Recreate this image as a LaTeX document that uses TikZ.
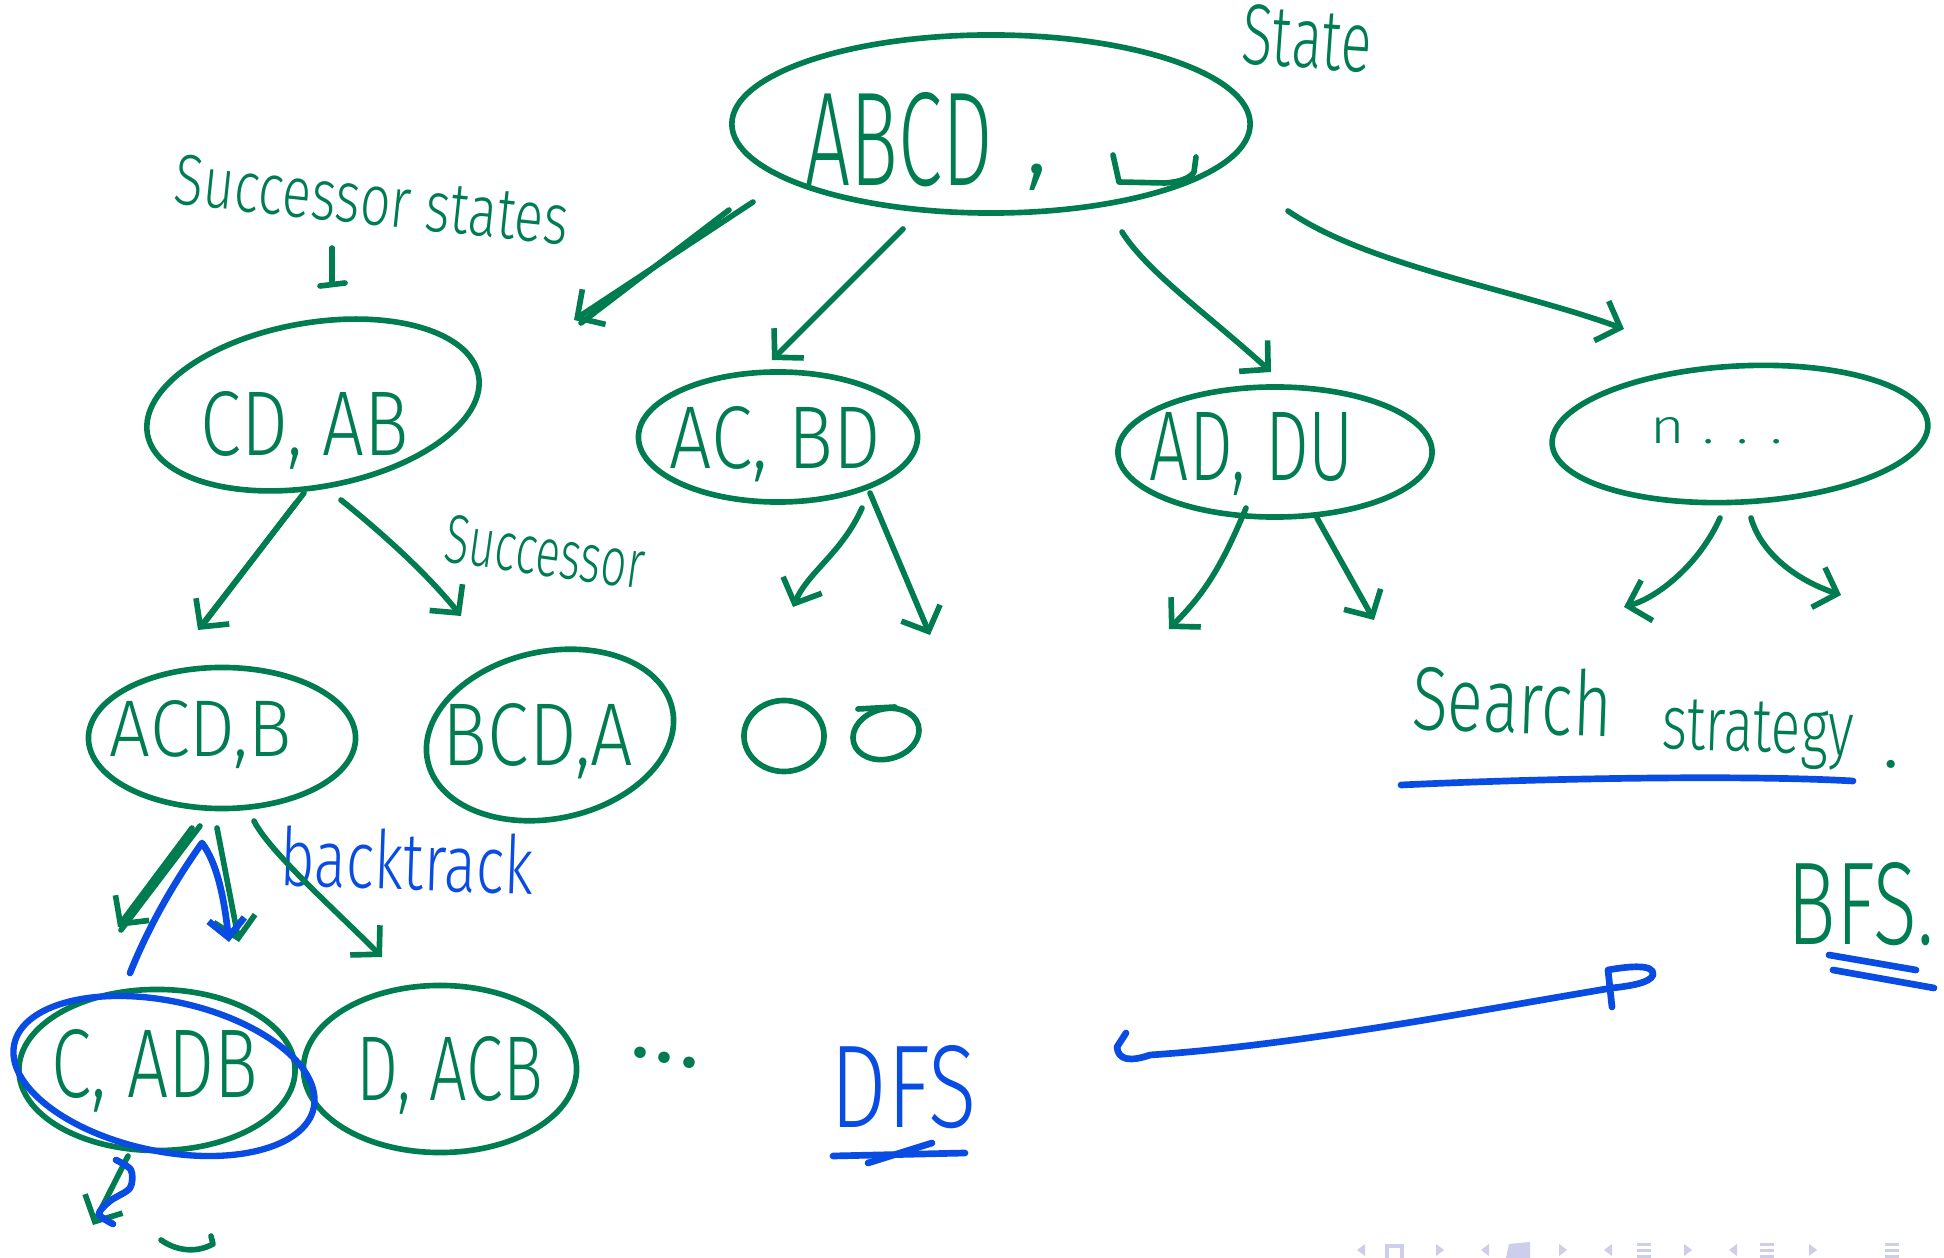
\documentclass[tikz,border=0pt]{standalone}
\usepackage{fontspec}
\setmainfont{Fira Sans Light}
\usetikzlibrary{arrows.meta,shapes.geometric}
\definecolor{ink}{RGB}{0,125,80}
\definecolor{pen}{RGB}{8,76,228}
\definecolor{navgrey}{RGB}{205,205,236}
% stretch a handwritten-looking label to a given width and height
\newcommand{\hw}[3]{\resizebox{#1}{#2}{#3}}

\begin{document}
\begin{tikzpicture}[x=0.01cm,y=-0.01cm,
  blob/.style={ellipse,draw=ink,line width=1.6pt,inner sep=0pt,outer sep=0pt},
  blueblob/.style={ellipse,draw=pen,line width=1.8pt,inner sep=0pt,outer sep=0pt},
  lbl/.style={text=ink,inner sep=0pt,anchor=base},
  bluelbl/.style={text=pen,inner sep=0pt,anchor=base},
  stroke/.style={draw=ink,line width=1.6pt,line cap=round,line join=round},
  bluestroke/.style={draw=pen,line width=1.9pt,line cap=round,line join=round},
  arr/.style={stroke,-{Straight Barb[length=0.2cm,width=0.42cm]}},
  bluearr/.style={bluestroke,-{Straight Barb[length=0.18cm,width=0.36cm]}}]

\useasboundingbox (0,0) rectangle (1944,1258);
\fill[white] (0,0) rectangle (1944,1258);

% ---- state nodes ----
\node[blob,minimum width=5.18cm,minimum height=1.78cm] (root) at (991,124) {};
\node[blob,minimum width=3.36cm,minimum height=1.64cm,rotate=10] (cdab) at (313,405) {};
\node[blob,minimum width=2.79cm,minimum height=1.30cm] (acbd) at (778,437) {};
\node[blob,minimum width=3.14cm,minimum height=1.30cm] (addu) at (1275,452) {};
\node[blob,minimum width=3.76cm,minimum height=1.36cm,rotate=3] (more) at (1740,434) {};
\node[blob,minimum width=2.67cm,minimum height=1.41cm] (acdb) at (222,738) {};
\node[blob,minimum width=2.50cm,minimum height=1.67cm,rotate=12] (bcda) at (550,735) {};
\node[blob,minimum width=0.80cm,minimum height=0.71cm] (c1) at (784,736) {};
\node[blob,minimum width=0.67cm,minimum height=0.50cm,rotate=15] (c2) at (886,734) {};
\node[blob,minimum width=2.76cm,minimum height=1.61cm] (cadb) at (157,1070) {};
\node[blob,minimum width=2.73cm,minimum height=1.67cm] (dacb) at (440,1069) {};
\node[blueblob,minimum width=3.06cm,minimum height=1.50cm,rotate=-12] (mark) at (164,1076) {};

% ---- labels ----
\node[lbl] (tabcd) at (899,186) {\hw{1.87cm}{0.93cm}{ABCD}};
\node[lbl] (tcomma) at (1037,174) {\fontsize{32}{32}\selectfont ,};
\draw[stroke] (1113,155) -- (1119,182) -- (1165,183) .. controls (1180,182) and (1190,178) .. (1194,172) -- (1196,157);
\node[lbl,rotate=-4] (tstate) at (1305,68) {\hw{1.30cm}{0.60cm}{State}};
\node[text=ink,inner sep=0pt,rotate=-6] (tss) at (372,200) {\hw{3.95cm}{0.50cm}{Successor states}};
\node[lbl] (tcdab) at (305,456) {\hw{2.08cm}{0.64cm}{CD, AB}};
\node[lbl] (tacbd) at (775,469) {\hw{2.11cm}{0.62cm}{AC, BD}};
\node[lbl] (taddu) at (1252,481) {\hw{2.04cm}{0.68cm}{AD, DU}};
\node[lbl] (tmore) at (1717,444) {\hw{1.32cm}{0.26cm}{n . . .}};
\node[text=ink,inner sep=0pt,rotate=-8] (tsucc) at (545,552) {\hw{2.00cm}{0.48cm}{Successor}};
\node[lbl] (tacdb) at (201,757) {\hw{1.82cm}{0.56cm}{ACD,B}};
\node[lbl] (tbcda) at (538,766) {\hw{1.90cm}{0.62cm}{BCD,A}};
\node[bluelbl,rotate=-2] (tback) at (406,890) {\hw{2.54cm}{0.60cm}{backtrack}};
\node[lbl] (tcadb) at (155,1097) {\hw{2.06cm}{0.68cm}{C, ADB}};
\node[lbl] (tdacb) at (450,1101) {\hw{1.86cm}{0.64cm}{D, ACB}};
\node[text=ink,inner sep=0pt,rotate=-12] (tdots) at (665,1058) {\fontsize{34}{34}\selectfont ...};
\node[bluelbl] (tdfs) at (904,1128) {\hw{1.46cm}{0.82cm}{DFS}};
\node[lbl,rotate=-2] (tsearch) at (1511,733) {\hw{2.00cm}{0.67cm}{Search}};
\node[lbl,rotate=-2] (tstrat) at (1757,752) {\hw{1.92cm}{0.50cm}{strategy}};
\node[lbl] (tdot) at (1891,768) {\fontsize{24}{24}\selectfont .};
\node[lbl] (tbfs) at (1861,945) {\hw{1.46cm}{0.82cm}{BFS.}};

% ---- pointer from the caption to the first successor ----
\coordinate (sstip) at (332,284);
\draw[stroke] ([yshift=-0.22cm]tss.south -| sstip) -- (sstip);
\draw[stroke] (320,286) -- (345,283);

% ---- successor arrows from the start state ----
\draw[arr] ([shift={(-238,78)}]root.center) -- ([shift={(261,-85)}]cdab.center);
\draw[stroke] ([shift={(-262,86)}]root.center) -- ([shift={(268,-82)}]cdab.center);
\draw[arr] ([shift={(-88,105)}]root.center) -- ([shift={(-6,-77)}]acbd.center);
\draw[arr] ([shift={(131,108)}]root.center) .. controls +(25,40) and +(-60,-55) .. ([shift={(-4,-80)}]addu.center);
\draw[arr] ([shift={(297,87)}]root.center) .. controls +(80,55) and +(-110,-40) .. ([shift={(-116,-105)}]more.center);

% ---- second level ----
\draw[arr] ([shift={(-9,88)}]cdab.center) -- ([shift={(-24,-108)}]acdb.center);
\draw[stroke] ([shift={(-17,98)}]cdab.center) -- ([shift={(-20,-112)}]acdb.center);
\draw[arr] ([shift={(28,95)}]cdab.center) .. controls +(25,20) and +(-40,-50) .. ([shift={(-89,-119)}]bcda.center);
\draw[arr] ([shift={(84,71)}]acbd.center) .. controls +(-20,45) and +(15,-35) .. ([shift={(9,-129)}]c1.center);
\draw[arr] ([shift={(92,56)}]acbd.center) -- ([shift={(44,-99)}]c2.center);
\draw[stroke] (858,709) -- (895,707);

\coordinate (e1) at (1169,629);
\coordinate (e2) at (1374,620);
\coordinate (e3) at (1624,607);
\coordinate (e4) at (1841,595);
\draw[arr] ([shift={(-29,56)}]addu.center) .. controls +(-25,60) and +(35,-35) .. (e1);
\draw[arr] ([shift={(42,66)}]addu.center) -- (e2);
\draw[arr] ([shift={(-20,84)}]more.center) .. controls +(-20,45) and +(35,-10) .. (e3);
\draw[arr] ([shift={(11,84)}]more.center) .. controls +(10,35) and +(-45,-15) .. (e4);

% ---- third level ----
\draw[arr] ([shift={(-30,90)}]acdb.center) -- ([shift={(-39,-143)}]cadb.center);
\draw[stroke] ([shift={(-22,88)}]acdb.center) -- ([shift={(-36,-140)}]cadb.center);
\draw[arr] ([shift={(-5,90)}]acdb.center) -- ([shift={(82,-128)}]cadb.center);
\draw[arr] ([shift={(32,83)}]acdb.center) .. controls +(15,30) and +(-50,-50) .. ([shift={(-58,-112)}]dacb.center);

% ---- backtracking stroke ----
\draw[bluearr] ([shift={(-27,-97)}]cadb.center) .. controls +(20,-50) and +(-25,35) .. ([shift={(-20,105)}]acdb.center)
  .. controls +(15,20) and +(-5,-45) .. ([shift={(72,-128)}]cadb.center);

% ---- struck-out step below C, ADB ----
\coordinate (e5) at (93,1225);
\draw[arr] ([shift={(-29,86)}]cadb.center) -- (e5);
\draw[bluestroke] plot[smooth] coordinates {(116,1160) (131,1170) (130,1188) (110,1201) (99,1214) (113,1224)};
\draw[stroke] (161,1240) .. controls (175,1250) and (195,1254) .. (213,1244) -- (211,1236);

% ---- underlines and the DFS/BFS stroke ----
\draw[bluestroke] (833,1156) -- (965,1153);
\draw[bluestroke] (868,1163) -- (932,1143);
\draw[bluestroke] (1401,785) .. controls (1550,778) and (1750,775) .. (1853,781);
\draw[bluestroke] (1829,955) -- (1916,970);
\draw[bluestroke] (1833,970) -- (1934,988);
\draw[bluestroke] (1612,1007) -- (1608,970) .. controls (1630,966) and (1655,964) .. (1653,975)
  .. controls (1650,983) and (1630,986) .. (1612,988)
  .. controls (1480,1010) and (1300,1045) .. (1150,1055)
  .. controls (1130,1062) and (1118,1060) .. (1117,1047) -- (1126,1033);

% ---- page navigation symbols ----
\begin{scope}[navgrey]
  \foreach \x in {1357,1481,1604,1729} {\fill (\x,1250) -- (\x+8,1244) -- (\x+8,1256) -- cycle;}
  \foreach \x in {1436,1559,1684,1809} {\fill (\x+8,1250) -- (\x,1244) -- (\x,1256) -- cycle;}
  \draw[line width=1pt] (1387,1258) -- (1387,1246) -- (1402,1246) -- (1402,1258);
  \fill (1506,1258) -- (1509,1244) -- (1530,1242) -- (1530,1258) -- cycle;
  \foreach \x in {1643,1766,1891} {\fill (\x-6,1243) rectangle (\x+8,1246); \fill (\x-6,1249) rectangle (\x+8,1252); \fill (\x-6,1255) rectangle (\x+8,1258);}
\end{scope}
\end{tikzpicture}
\end{document}
